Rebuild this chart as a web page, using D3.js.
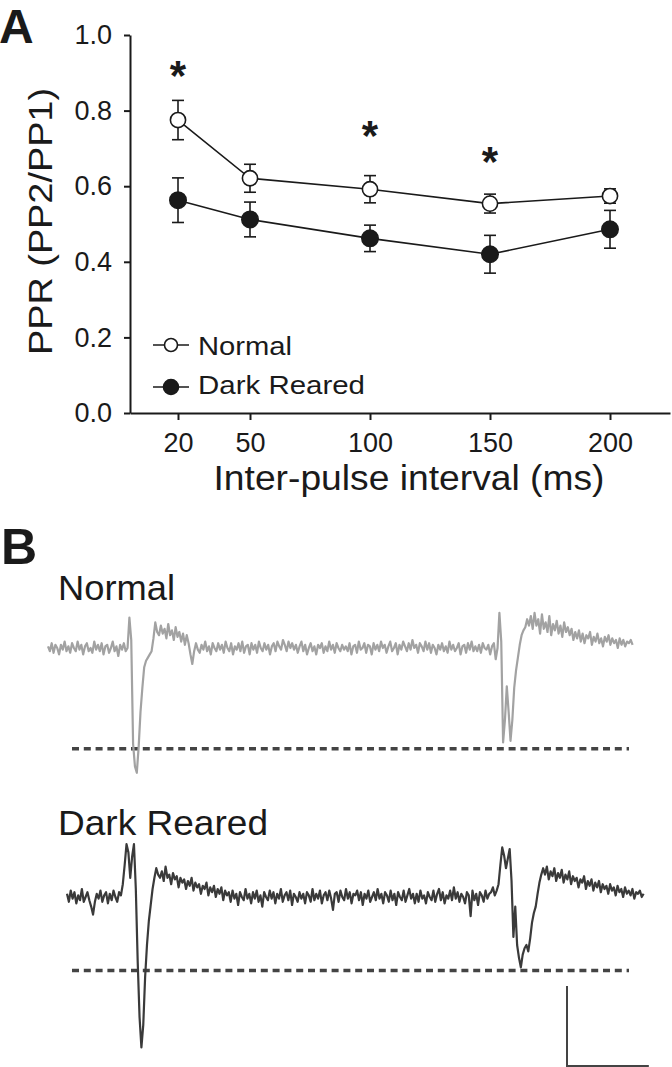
<!DOCTYPE html>
<html>
<head>
<meta charset="utf-8">
<script src="https://cdn.jsdelivr.net/npm/d3@7"></script>
<style>
  body { margin: 0; background: #fff; }
  svg { display: block; font-family: "Liberation Sans", Arial, sans-serif; }
</style>
</head>
<body>
<svg width="672" height="1067"></svg>
<script>
// ---- panel A data ----
var intervals = [20, 50, 100, 150, 200];
var normalMean = [0.775, 0.621, 0.592, 0.554, 0.574];
var normalErr  = [0.052, 0.037, 0.036, 0.025, 0.019];
var darkMean   = [0.563, 0.512, 0.462, 0.420, 0.486];
var darkErr    = [0.059, 0.046, 0.035, 0.050, 0.050];
var starIntervals = [20, 100, 150];
var starLevels    = [0.918, 0.757, 0.688];
var yTicks = [0, 0.2, 0.4, 0.6, 0.8, 1.0];

// ---- panel B data (pA, one sample every 0.5 ms) ----
var normalTrace = [
  1,-2,3,-3,2,0,-4,2,-1,4, -2,1,-3,3,0,-2,4,-1,2,-4, 1,3,-2,0,-3,4,-1,2,-2,3, -4,1,2,-3,0,4,-2,1,-5,2, -1,3,-2,0,
  19,5,-60,-74,-78,-62,-40,-25,-12,-8,-6,-4,-2,6,16,10,8,
  14,9,12,6,15,8,11,5,13,7,10,4,9,2,8,3,-4,-10,-2,3,-1,
  -3,2,-1,4,-2,1,-4,3,0,-2,
  3,-1,2,-3,4,0,-2,3,-4,1,
  -1,3,-2,4,-3,1,2,-4,3,-1,
  2,-3,4,0,-2,3,-1,2,-4,1,
  3,-2,4,1,-1,5,2,-2,4,0,
  3,-1,2,-3,1,4,-2,2,-4,0,
  3,-2,1,-4,2,0,3,-3,1,-2,
  4,-1,2,-3,3,0,-2,2,-1,1,
  -2,3,-4,1,2,-3,4,-1,0,3,
  -3,2,1,-4,3,-1,2,-2,4,0,
  2,-3,1,4,-2,0,3,-4,2,-1,
  4,1,-2,3,-1,5,0,2,-3,3,
  1,-2,4,-1,3,-3,2,0,-4,2,
  -1,3,-2,1,-3,4,-1,2,-2,0,
  3,-4,1,2,-3,3,-1,4,-2,1,
  -2,2,-3,3,0,-1,2,-4,1,3,
  -7,0,
  22,4,-59,-45,-24,-40,-58,-45,-25,-14,-6,2,8,11,13,18,14,
  20,12,22,14,18,9,21,12,16,10,20,8,15,11,17,9,14,7,16,10,13,
  8,12,5,10,6,11,4,9,3,8,6,10,2,7,4,9,3,6,1,7,4,8,2,6,3,5,0,6,2,5,1,4,3,5,2];
var darkTrace = [
  2,-3,4,-1,3,-4,1,-2,5,-3,0,3,-2,-6,-11,-3,2,-1,4,-3,1,3,-4,2,-2,4,0,-3,3,1,
  8,20,33,28,12,25,33,5,-40,-75,-94,-80,-50,-30,-15,-5,5,12,18,14,12,
  16,10,19,12,14,8,15,11,13,6,12,9,11,5,10,7,12,4,9,6,8,2,7,5,9,1,6,3,7,0,5,2,6,-2,4,1,3,
  -3,4,-1,2,-5,3,0,-2,5,-1,
  2,-4,3,-1,4,-3,1,-6,3,0,
  -2,4,-1,3,-4,2,-1,5,-3,1,
  3,-2,4,-5,2,0,-3,3,-1,2,
  -4,3,1,-3,5,-2,2,-1,4,-4,
  1,3,-2,4,-1,-8,2,3,-3,4,
  0,-2,5,-1,3,-4,2,1,4,-2,
  3,-5,2,-1,4,-3,0,3,-2,5,
  -1,2,-4,3,1,-3,4,-2,2,-5,
  3,0,-2,4,-3,1,5,-1,2,-4,
  2,-3,4,-1,1,-4,3,0,-2,4,
  -3,2,5,-2,3,-4,1,-1,4,-2,
  6,-1,3,-3,2,0,-4,3,1,-12,
  4,-2,2,-5,3,1,-3,4,-1,2,
  3,6,1,4,
  8,20,31,26,18,24,30,10,-25,-6,-30,-38,-44,-36,-32,-30,-34,-26,-16,-10,-6,2,9,14,18,
  14,19,11,16,13,18,10,15,12,17,9,14,11,16,8,13,10,12,6,11,9,13,5,10,7,11,4,9,6,10,
  3,8,5,7,2,8,4,6,1,7,3,5,0,6,2,4,1,5,-1,3,2,4,0,2];
var normalPeak = -63;
var darkPeak = -46;
var scaleBarMs = 22;
var scaleBarPA = 50;

var svg = d3.select('svg');
var ink = '#1a1a1a';

// ================= Panel A =================
var x = d3.scaleLinear().domain([0, 225]).range([130, 670]);
var y = d3.scaleLinear().domain([0, 1]).range([413, 35]);

svg.append('text').text('A')
    .attr('x', -1).attr('y', 43)
    .attr('font-size', 48).attr('font-weight', 'bold').attr('fill', ink);

var yAxis = svg.append('g')
    .attr('transform', 'translate(130,0)')
    .call(d3.axisLeft(y).tickValues(yTicks).tickFormat(d3.format('.1f'))
        .tickSize(6).tickSizeOuter(0).tickPadding(12));

var xAxis = svg.append('g')
    .attr('transform', 'translate(0,413)')
    .call(d3.axisBottom(x).tickValues(intervals)
        .tickSize(7).tickSizeOuter(0).tickPadding(13));

[xAxis, yAxis].forEach(function(g){
    g.selectAll('path, line').attr('stroke', ink).attr('stroke-width', 2);
    g.selectAll('text').attr('font-size', 27).attr('fill', ink)
        .attr('font-family', '"Liberation Sans", Arial, sans-serif');
});

svg.append('text')
    .text('PPR (PP2/PP1)')
    .attr('transform', 'translate(52,221.5)rotate(-90)')
    .attr('text-anchor', 'middle')
    .attr('font-size', 33)
    .attr('textLength', 267).attr('lengthAdjust', 'spacingAndGlyphs')
    .attr('fill', ink);

svg.append('text')
    .text('Inter-pulse interval (ms)')
    .attr('x', 409).attr('y', 490)
    .attr('text-anchor', 'middle')
    .attr('font-size', 35)
    .attr('textLength', 391).attr('lengthAdjust', 'spacingAndGlyphs')
    .attr('fill', ink);

function drawSeries(means, errs, filled, r){
    var pts = intervals.map(function(d, i){ return {x: d, m: means[i], e: errs[i]}; });

    svg.append('path')
        .datum(pts)
        .attr('fill', 'none')
        .attr('stroke', ink)
        .attr('stroke-width', 1.6)
        .attr('d', d3.line().x(function(d){ return x(d.x); }).y(function(d){ return y(d.m); }));

    var eb = svg.append('g').selectAll('g').data(pts).enter().append('g')
        .attr('stroke', ink).attr('stroke-width', 1.6);
    eb.append('line')
        .attr('x1', function(d){ return x(d.x); })
        .attr('x2', function(d){ return x(d.x); })
        .attr('y1', function(d){ return y(d.m + d.e); })
        .attr('y2', function(d){ return y(d.m - d.e); });
    [1, -1].forEach(function(s){
        eb.append('line')
            .attr('x1', function(d){ return x(d.x) - 6; })
            .attr('x2', function(d){ return x(d.x) + 6; })
            .attr('y1', function(d){ return y(d.m + s * d.e); })
            .attr('y2', function(d){ return y(d.m + s * d.e); });
    });

    svg.append('g').selectAll('circle').data(pts).enter().append('circle')
        .attr('cx', function(d){ return x(d.x); })
        .attr('cy', function(d){ return y(d.m); })
        .attr('r', r)
        .attr('fill', filled ? ink : '#fff')
        .attr('stroke', ink)
        .attr('stroke-width', 1.6);
}

drawSeries(normalMean, normalErr, false, 7.6);
drawSeries(darkMean, darkErr, true, 8.2);

svg.selectAll('.star')
    .data(starIntervals)
    .enter()
    .append('text')
    .attr('class', 'star')
    .text('*')
    .attr('x', function(d){ return x(d); })
    .attr('y', function(d, i){ return y(starLevels[i]); })
    .attr('dy', '0.56em')
    .attr('text-anchor', 'middle')
    .attr('font-size', 42)
    .attr('font-weight', 'bold')
    .attr('fill', ink);

// legend
var legend = [
    {label: 'Normal', filled: false, r: 6.5, cy: 345, base: 355, w: 94},
    {label: 'Dark Reared', filled: true, r: 7.5, cy: 387, base: 394, w: 167}
];
legend.forEach(function(l){
    svg.append('line')
        .attr('x1', 153).attr('x2', 189)
        .attr('y1', l.cy).attr('y2', l.cy)
        .attr('stroke', ink).attr('stroke-width', 1.6);
    svg.append('circle')
        .attr('cx', 171).attr('cy', l.cy).attr('r', l.r)
        .attr('fill', l.filled ? ink : '#fff')
        .attr('stroke', ink).attr('stroke-width', 1.6);
    svg.append('text')
        .text(l.label)
        .attr('x', 198).attr('y', l.base)
        .attr('font-size', 26)
        .attr('textLength', l.w).attr('lengthAdjust', 'spacingAndGlyphs')
        .attr('fill', ink);
});

// ================= Panel B =================
svg.append('text').text('B')
    .attr('x', 1).attr('y', 564)
    .attr('font-size', 50).attr('font-weight', 'bold').attr('fill', ink);

function drawTrace(values, peak, label, opts){
    var tx = d3.scaleLinear().domain([0, (values.length - 1) / 2]).range([opts.x0, opts.x1]);
    var ty = d3.scaleLinear().domain([-100, 0]).range([opts.base + 160, opts.base]);

    svg.append('text')
        .text(label)
        .attr('x', 58).attr('y', opts.labelY)
        .attr('font-size', 35)
        .attr('textLength', opts.labelW).attr('lengthAdjust', 'spacingAndGlyphs')
        .attr('fill', ink);

    svg.append('line')
        .attr('x1', 72).attr('x2', 629)
        .attr('y1', ty(peak)).attr('y2', ty(peak))
        .attr('stroke', '#444')
        .attr('stroke-width', 3.5)
        .attr('stroke-dasharray', '7,4.8');

    svg.append('path')
        .datum(values)
        .attr('fill', 'none')
        .attr('stroke', opts.color)
        .attr('stroke-width', 2.2)
        .attr('stroke-linejoin', 'round')
        .attr('d', d3.line().x(function(d, i){ return tx(i / 2); }).y(function(d){ return ty(d); }));

    return {tx: tx, ty: ty};
}

var nScale = drawTrace(normalTrace, normalPeak, 'Normal',
    {x0: 48, x1: 632.6, base: 648, color: '#a2a2a2', labelY: 600, labelW: 117});
var dScale = drawTrace(darkTrace, darkPeak, 'Dark Reared',
    {x0: 67, x1: 643.6, base: 897, color: '#3a3a3a', labelY: 835, labelW: 210});

// scale bar
var msPx = dScale.tx(1) - dScale.tx(0);
var paPx = dScale.ty(0) - dScale.ty(scaleBarPA);
svg.append('path')
    .attr('d', 'M567,' + (1066 - Math.abs(paPx)) + 'V1066H' + (567 + msPx * scaleBarMs))
    .attr('fill', 'none')
    .attr('stroke', '#444')
    .attr('stroke-width', 2);
</script>
</body>
</html>
